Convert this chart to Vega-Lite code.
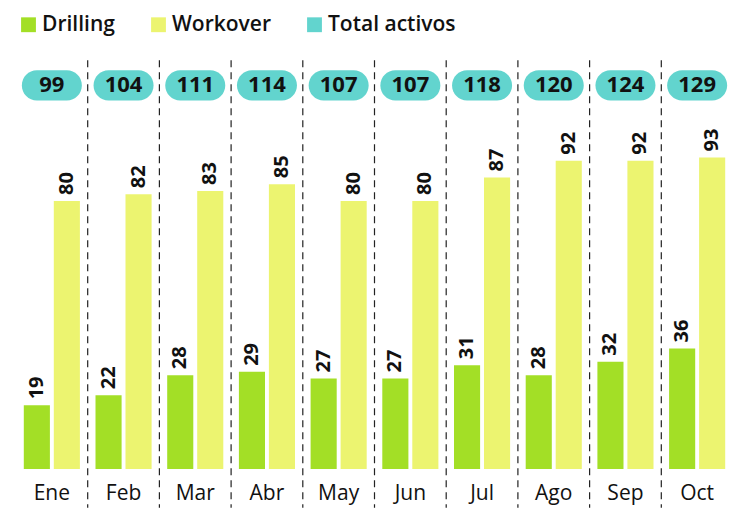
{
  "$schema": "https://vega.github.io/schema/vega-lite/v6.json",
  "width": 717,
  "height": 469,
  "padding": {"left": 16, "top": 0, "right": 8, "bottom": 0},
  "background": "white",
  "config": {"view": {"stroke": null}, "font": "Open Sans"},
  "datasets": {
    "bars": [
      {"month": "Ene", "series": "Drilling", "value": 19},
      {"month": "Ene", "series": "Workover", "value": 80},
      {"month": "Feb", "series": "Drilling", "value": 22},
      {"month": "Feb", "series": "Workover", "value": 82},
      {"month": "Mar", "series": "Drilling", "value": 28},
      {"month": "Mar", "series": "Workover", "value": 83},
      {"month": "Abr", "series": "Drilling", "value": 29},
      {"month": "Abr", "series": "Workover", "value": 85},
      {"month": "May", "series": "Drilling", "value": 27},
      {"month": "May", "series": "Workover", "value": 80},
      {"month": "Jun", "series": "Drilling", "value": 27},
      {"month": "Jun", "series": "Workover", "value": 80},
      {"month": "Jul", "series": "Drilling", "value": 31},
      {"month": "Jul", "series": "Workover", "value": 87},
      {"month": "Ago", "series": "Drilling", "value": 28},
      {"month": "Ago", "series": "Workover", "value": 92},
      {"month": "Sep", "series": "Drilling", "value": 32},
      {"month": "Sep", "series": "Workover", "value": 92},
      {"month": "Oct", "series": "Drilling", "value": 36},
      {"month": "Oct", "series": "Workover", "value": 93}
    ],
    "totals": [
      {"month": "Ene", "total": 99},
      {"month": "Feb", "total": 104},
      {"month": "Mar", "total": 111},
      {"month": "Abr", "total": 114},
      {"month": "May", "total": 107},
      {"month": "Jun", "total": 107},
      {"month": "Jul", "total": 118},
      {"month": "Ago", "total": 120},
      {"month": "Sep", "total": 124},
      {"month": "Oct", "total": 129}
    ]
  },
  "encoding": {
    "x": {
      "field": "month",
      "type": "nominal",
      "sort": ["Ene", "Feb", "Mar", "Abr", "May", "Jun", "Jul", "Ago", "Sep", "Oct"],
      "scale": {"paddingInner": 0, "paddingOuter": 0},
      "axis": {
        "title": null,
        "domain": false,
        "ticks": false,
        "labelAngle": 0,
        "labelFontSize": 21,
        "labelFont": "Open Sans",
        "labelColor": "#111",
        "labelPadding": 13
      }
    }
  },
  "layer": [
    {
      "data": {"name": "totals"},
      "transform": [{"filter": "datum.month != 'Ene'"}],
      "mark": {"type": "rule", "strokeDash": [7, 5], "strokeWidth": 1.2, "color": "#222"},
      "encoding": {
        "x": {"field": "month", "type": "nominal", "bandPosition": 0, "sort": ["Ene", "Feb", "Mar", "Abr", "May", "Jun", "Jul", "Ago", "Sep", "Oct"]},
        "y": {"datum": 122, "type": "quantitative", "scale": {"domain": [0, 140], "nice": false, "zero": true}, "axis": null},
        "y2": {"datum": -11.6}
      }
    },
    {
      "data": {"name": "totals"},
      "mark": {"type": "bar", "width": 60, "cornerRadius": 15},
      "encoding": {
        "y": {"datum": 110, "type": "quantitative"},
        "y2": {"datum": 119},
        "color": {"datum": "Total activos", "type": "nominal"}
      }
    },
    {
      "data": {"name": "totals"},
      "mark": {"type": "text", "fontSize": 22, "fontWeight": "bold", "baseline": "middle", "align": "center", "color": "#111"},
      "encoding": {
        "y": {"datum": 114.5, "type": "quantitative"},
        "text": {"field": "total", "type": "quantitative"}
      }
    },
    {
      "data": {"name": "bars"},
      "mark": {"type": "bar"},
      "encoding": {
        "xOffset": {"field": "series", "type": "nominal", "scale": {"paddingInner": 0.13, "paddingOuter": 0.26}},
        "y": {"field": "value", "type": "quantitative"},
        "color": {
          "field": "series",
          "type": "nominal",
          "scale": {"domain": ["Drilling", "Workover", "Total activos"], "range": ["#a3df26", "#ecf470", "#62d4ce"]},
          "legend": {
            "orient": "none",
            "legendX": 2,
            "legendY": 14,
            "direction": "horizontal",
            "title": null,
            "symbolType": "square",
            "symbolSize": 220,
            "symbolStrokeWidth": 0,
            "labelFontSize": 21,
            "labelFontWeight": 600,
            "labelFont": "Open Sans",
            "labelColor": "#111",
            "labelOffset": 3,
            "columnPadding": 33,
            "padding": 0
          }
        }
      }
    },
    {
      "data": {"name": "bars"},
      "mark": {"type": "text", "angle": 270, "align": "left", "baseline": "middle", "dx": 6, "fontSize": 20, "fontWeight": "bold", "color": "#111"},
      "encoding": {
        "xOffset": {"field": "series", "type": "nominal"},
        "y": {"field": "value", "type": "quantitative"},
        "text": {"field": "value", "type": "quantitative"}
      }
    }
  ]
}
